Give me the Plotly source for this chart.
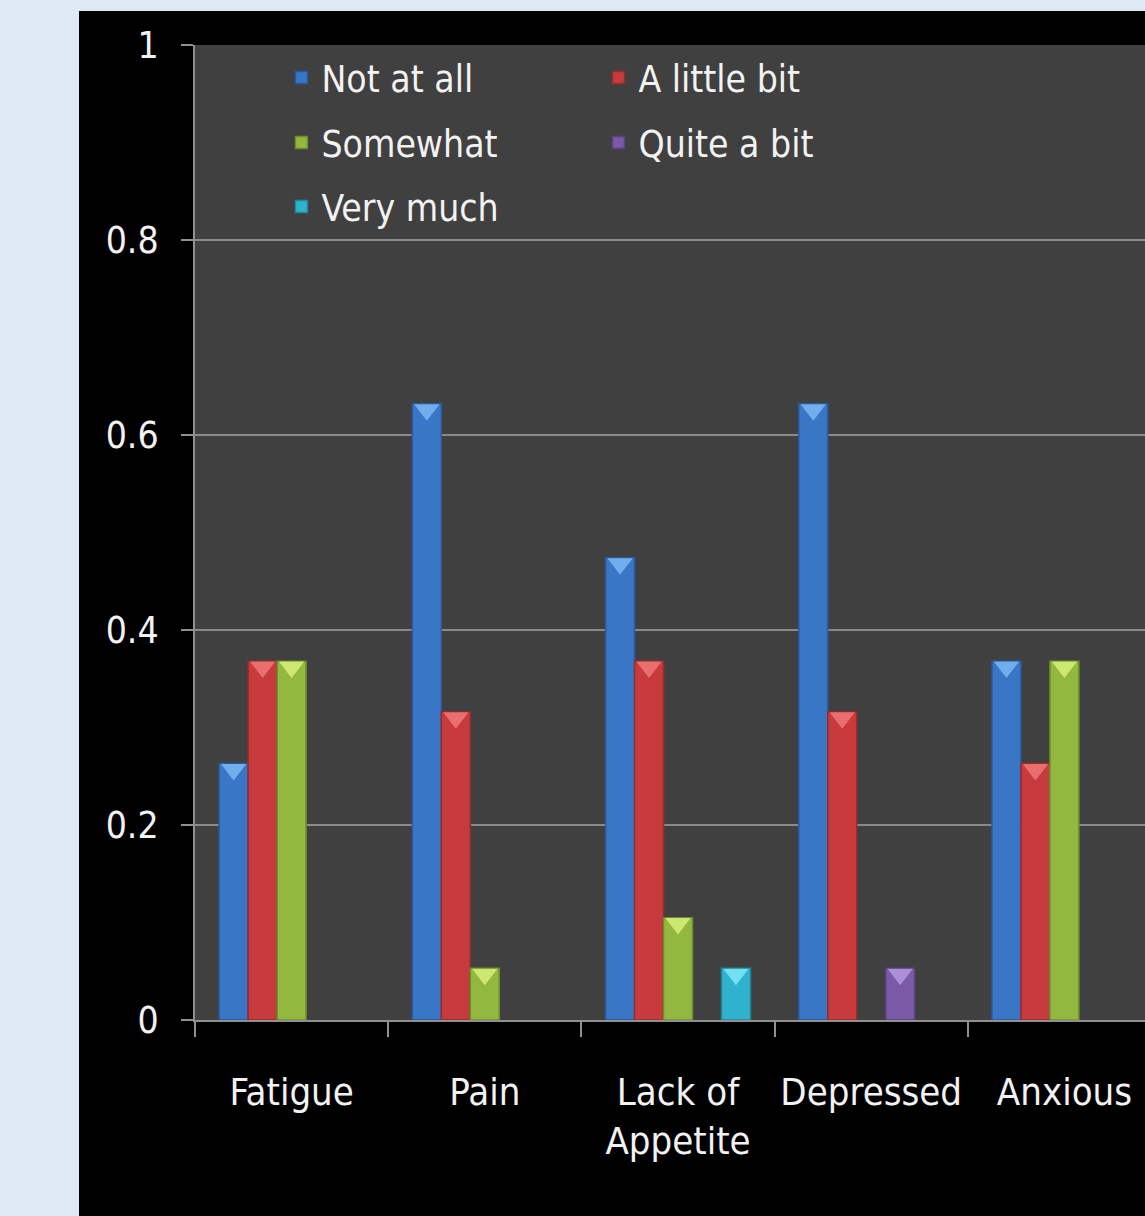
import plotly.graph_objects as go

categories = ["Fatigue", "Pain", "Lack of<br>Appetite", "Depressed", "Anxious"]
series_names = ["Not at all", "A little bit", "Somewhat", "Quite a bit", "Very much"]

not_at_all = [0.263, 0.632, 0.474, 0.632, 0.368]
a_little_bit = [0.368, 0.316, 0.368, 0.316, 0.263]
somewhat = [0.368, 0.053, 0.105, 0.0, 0.368]
quite_a_bit = [0.0, 0.0, 0.0, 0.053, 0.0]
very_much = [0.0, 0.0, 0.053, 0.0, 0.0]

y_ticks = [0, 0.2, 0.4, 0.6, 0.8, 1]
y_tick_labels = ["0", "0.2", "0.4", "0.6", "0.8", "1"]

series_values = [not_at_all, a_little_bit, somewhat, quite_a_bit, very_much]
fill_colors = ["#3a76c6", "#c73b3c", "#93b83f", "#7a5aa6", "#2fb2ce"]
edge_colors = ["#2a5a9c", "#962c2e", "#6e8c2e", "#5a4280", "#21869c"]
cap_colors = ["#7db8f5", "#f07878", "#d6f07a", "#b698e0", "#7ee6f8"]
legend_rows = ["legend", "legend", "legend2", "legend2", "legend3"]

FONT = "DejaVu Sans Condensed, DejaVu Sans, sans-serif"
TEXT = "#f2f2f2"

fig = go.Figure()

for name, vals, fc, ec, lg in zip(series_names, series_values, fill_colors, edge_colors, legend_rows):
    fig.add_trace(go.Bar(
        x=categories, y=[v if v > 0 else None for v in vals], name=name, offsetgroup=name,
        marker=dict(color=fc, line=dict(color=ec, width=1.5)),
        legend=lg, hoverinfo="y+name",
    ))

# lighter bevel caps on top of each bar
for name, vals, cc in zip(series_names, series_values, cap_colors):
    xs = [c for c, v in zip(categories, vals) if v > 0]
    ys = [v - 0.006 for v in vals if v > 0]
    fig.add_trace(go.Scatter(
        x=xs, y=ys, mode="markers", offsetgroup=name, showlegend=False,
        marker=dict(symbol="triangle-down", size=22, color=cc, opacity=0.85,
                    line=dict(width=0)),
        hoverinfo="skip",
    ))

W, H = 1145, 1216
L, T, B = 195, 45, 196
PW, PH = W - L, H - T - B

legend_style = dict(
    orientation="h", xanchor="left", yanchor="middle",
    entrywidth=272, entrywidthmode="pixels",
    bgcolor="rgba(0,0,0,0)", font=dict(size=37, color=TEXT, family=FONT),
)

fig.update_layout(
    width=W, height=H,
    margin=dict(l=L, r=0, t=T, b=B, pad=0, autoexpand=False),
    paper_bgcolor="#000000",
    plot_bgcolor="#404040",
    barmode="group", bargap=0.25, bargroupgap=0,
    scattermode="group", scattergap=0.25,
    font=dict(family=FONT, color=TEXT, size=36),
    legend=dict(x=0.091, y=1 - 33 / PH, **legend_style),
    legend2=dict(x=0.091, y=1 - 98 / PH, **legend_style),
    legend3=dict(x=0.091, y=1 - 162 / PH, **legend_style),
    shapes=[
        dict(type="rect", xref="paper", yref="paper", layer="below",
             x0=-L / PW - 0.01, x1=(79 - L) / PW,
             y0=-B / PH - 0.01, y1=1 + T / PH + 0.01,
             fillcolor="#dfe9f5", line=dict(width=0)),
        dict(type="rect", xref="paper", yref="paper", layer="below",
             x0=-L / PW - 0.01, x1=1.01,
             y0=1 + (T - 11) / PH, y1=1 + T / PH + 0.01,
             fillcolor="#dfe9f5", line=dict(width=0)),
    ],
    showlegend=True,
)

fig.update_xaxes(
    type="category", range=[-0.5, 4.417], tickangle=0, automargin=False,
    tickson="boundaries", ticks="outside", ticklen=15, tickcolor="#909090", tickwidth=2,
    ticklabelstandoff=37,
    showline=True, linecolor="#909090", linewidth=2,
    showgrid=False, tickfont=dict(size=38, family=FONT, color=TEXT),
)
fig.update_yaxes(
    range=[0, 1], tickvals=y_ticks, ticktext=y_tick_labels, automargin=False,
    ticks="outside", ticklen=12, tickcolor="#909090", tickwidth=2,
    ticklabelstandoff=15,
    showline=True, linecolor="#909090", linewidth=2,
    showgrid=True, gridcolor="#8a8a8a", gridwidth=2,
    zeroline=False, tickfont=dict(size=37, family=FONT, color=TEXT),
)

fig.write_html("out.html")
